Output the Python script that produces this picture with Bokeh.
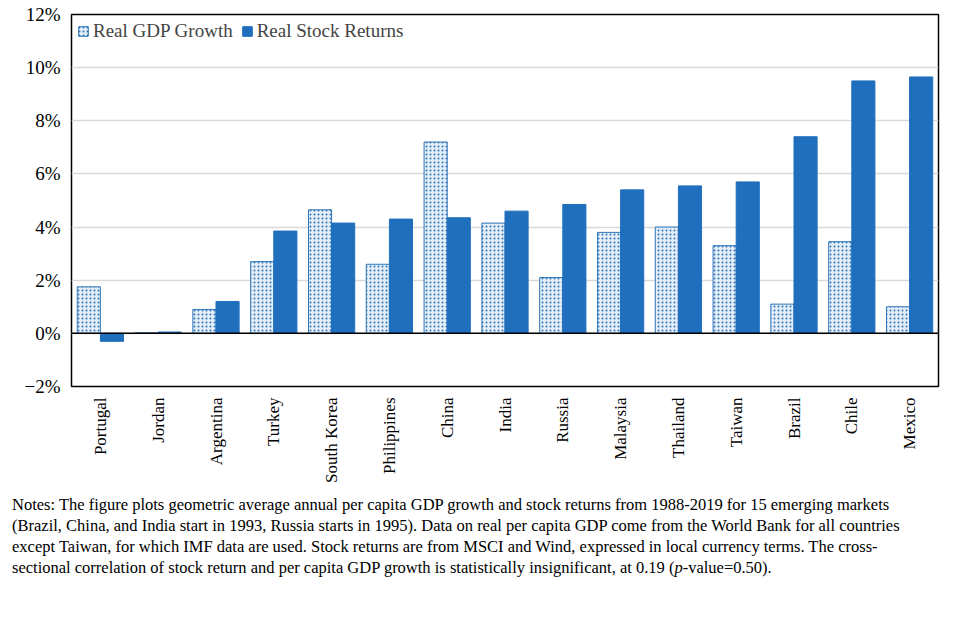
from bokeh.plotting import figure
from bokeh.models import ColumnDataSource, FactorRange, Span, Legend, LegendItem, Div, FixedTicker
from bokeh.transform import dodge
from bokeh.layouts import column
from bokeh.embed import file_html
from bokeh.resources import INLINE
import math

countries = ["Portugal","Jordan","Argentina","Turkey","South Korea","Philippines","China","India",
             "Russia","Malaysia","Thailand","Taiwan","Brazil","Chile","Mexico"]
gdp = [1.75,0.02,0.9,2.7,4.65,2.6,7.2,4.15,2.1,3.8,4.0,3.3,1.1,3.45,1.0]
stock = [-0.3,0.05,1.2,3.85,4.15,4.3,4.35,4.6,4.85,5.4,5.55,5.7,7.4,9.5,9.65]
yticks = [-2,0,2,4,6,8,10,12]

src = ColumnDataSource(dict(c=countries, gdp=gdp, stock=stock))
FONT = "Liberation Serif"

p = figure(x_range=FactorRange(*countries), y_range=(-2,12), width=940, height=485,
           output_backend="svg", toolbar_location=None, min_border_left=71,
           min_border_top=14, min_border_right=2)
r1 = p.vbar(x=dodge("c", -0.2, range=p.x_range), top="gdp", bottom=0, width=0.4, source=src,
            fill_color="#e4eef8", line_color="#2e75b6", line_width=1,
            hatch_pattern="dot", hatch_color="#2e75b6", hatch_scale=4, hatch_weight=1.2)
r2 = p.vbar(x=dodge("c", 0.2, range=p.x_range), top="stock", bottom=0, width=0.4, source=src,
            fill_color="#1f6fbd", line_color="#1f6fbd")
p.add_layout(Span(location=0, dimension="width", line_color="black", line_width=1.5))

p.outline_line_color = "black"
p.outline_line_width = 1.5
p.xgrid.grid_line_color = None
p.ygrid.grid_line_color = "#d9d9d9"
p.ygrid.grid_line_width = 1.5
p.yaxis.ticker = FixedTicker(ticks=yticks)
p.yaxis.major_label_overrides = {t: (("\u2212%d%%" % -t) if t < 0 else "%d%%" % t) for t in yticks}
for ax in (p.xaxis, p.yaxis):
    ax.axis_line_color = None
    ax.major_tick_line_color = None
    ax.minor_tick_line_color = None
    ax.major_label_text_font = FONT
    ax.major_label_text_color = "black"
p.yaxis.major_label_text_font_size = "19px"
p.xaxis.major_label_text_font_size = "17px"
p.xaxis.major_label_orientation = math.pi/2

leg = Legend(items=[LegendItem(label="Real GDP Growth", renderers=[r1]),
                    LegendItem(label="Real Stock Returns", renderers=[r2])],
             location="top_left", orientation="horizontal", border_line_color=None,
             background_fill_alpha=0, label_text_font=FONT, label_text_font_size="19px",
             glyph_width=12, glyph_height=12, spacing=8, label_standoff=4, margin=6, padding=4)
p.add_layout(leg)

notes = Div(text=("Notes: The figure plots geometric average annual per capita GDP growth and stock returns from 1988-2019 for "
                  "15 emerging markets (Brazil, China, and India start in 1993, Russia starts in 1995). Data on real per capita GDP "
                  "come from the World Bank for all countries except Taiwan, for which IMF data are used. Stock returns are from "
                  "MSCI and Wind, expressed in local currency terms. The cross-sectional correlation of stock return and per capita "
                  "GDP growth is statistically insignificant, at 0.19 (<i>p</i>-value=0.50)."),
            width=900, styles={"font-family": FONT, "font-size": "16.5px", "line-height": "21px",
                               "color": "black", "margin-left": "12px"})
lay = column(p, notes, spacing=4)
open("out.html", "w").write(file_html(lay, INLINE))
